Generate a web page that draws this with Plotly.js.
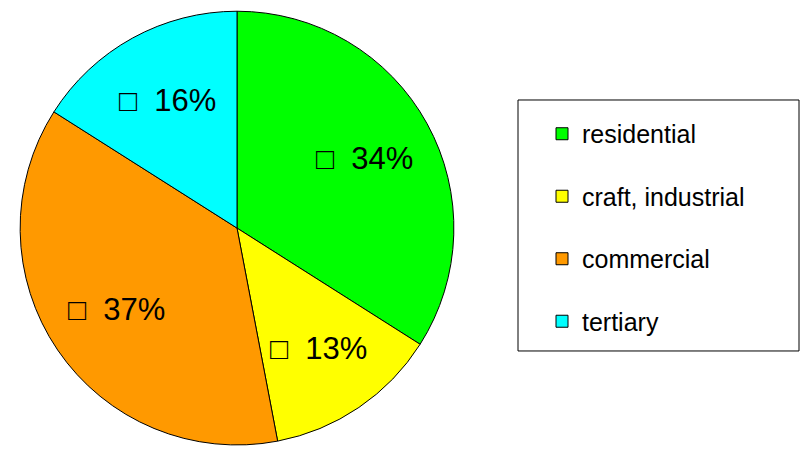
<!DOCTYPE html>
<html>
<head>
<meta charset="utf-8">
<script src="https://cdn.plot.ly/plotly-3.0.1.min.js"></script>
<style>html,body{margin:0;padding:0;background:#fff;}#chart{width:800px;height:449px;}</style>
</head>
<body>
<div id="chart"></div>
<script>
const categories = ["residential", "craft, industrial", "commercial", "tertiary"];
const shares = [34, 13, 37, 16];
const colors = ["#00ff00", "#ffff00", "#ff9900", "#00ffff"];

const W = 800, H = 449;
const pieDomain = { x: [0.025, 0.5675], y: [0.009, 0.975] };

const pie = {
  type: "pie",
  labels: categories,
  values: shares,
  sort: false,
  direction: "clockwise",
  rotation: 0,
  marker: { colors: colors, line: { color: "#000", width: 1 } },
  textinfo: "none",
  domain: pieDomain,
  showlegend: false,
  hoverinfo: "label+percent"
};

const legendTraces = categories.map((c, i) => ({
  type: "scatter",
  mode: "markers",
  x: [null], y: [null],
  name: c,
  legendgroup: "g" + i,
  marker: { symbol: "square", size: 12, color: colors[i], line: { color: "#000", width: 1 } },
  showlegend: true,
  hoverinfo: "skip"
}));

// percentage labels placed along each slice's mid-angle, derived from the shares
const total = shares.reduce((a, b) => a + b, 0);
const cx = (pieDomain.x[0] + pieDomain.x[1]) / 2;
const cy = (pieDomain.y[0] + pieDomain.y[1]) / 2;
const rPx = Math.min((pieDomain.x[1] - pieDomain.x[0]) * W, (pieDomain.y[1] - pieDomain.y[0]) * H) / 2;
const labelR = 0.67 * rPx;
let cum = 0;
const annotations = shares.map((v) => {
  const mid = (cum + v / 2) / total * 2 * Math.PI;
  cum += v;
  const pct = Math.round(v / total * 100);
  return {
    xref: "paper", yref: "paper",
    x: cx + labelR * Math.sin(mid) / W,
    y: cy + labelR * Math.cos(mid) / H,
    xanchor: "center", yanchor: "middle",
    showarrow: false,
    text: "<b><span style='font-size:30px'>\u25A1</span></b>\u00a0\u00a0" + pct + "%",
    font: { family: "Liberation Sans, Arial, sans-serif", size: 31, color: "#000" }
  };
});

const layout = {
  width: W, height: H,
  margin: { l: 0, r: 0, t: 0, b: 0 },
  paper_bgcolor: "#fff",
  plot_bgcolor: "rgba(0,0,0,0)",
  xaxis: { visible: false },
  yaxis: { visible: false },
  showlegend: true,
  legend: {
    x: 0.6775, xanchor: "left",
    y: 0.7528, yanchor: "top",
    bgcolor: "rgba(0,0,0,0)",
    borderwidth: 0,
    tracegroupgap: 27,
    traceorder: "grouped",
    font: { family: "Liberation Sans, Arial, sans-serif", size: 25, color: "#000" }
  },
  annotations: annotations,
  shapes: [{
    type: "rect", xref: "paper", yref: "paper",
    x0: 0.6475, x1: 0.99875, y0: 0.2183, y1: 0.7773,
    line: { color: "#000", width: 1 }, fillcolor: "rgba(0,0,0,0)"
  }]
};

Plotly.newPlot("chart", [pie].concat(legendTraces), layout, { displayModeBar: false, staticPlot: true });
</script>
</body>
</html>
